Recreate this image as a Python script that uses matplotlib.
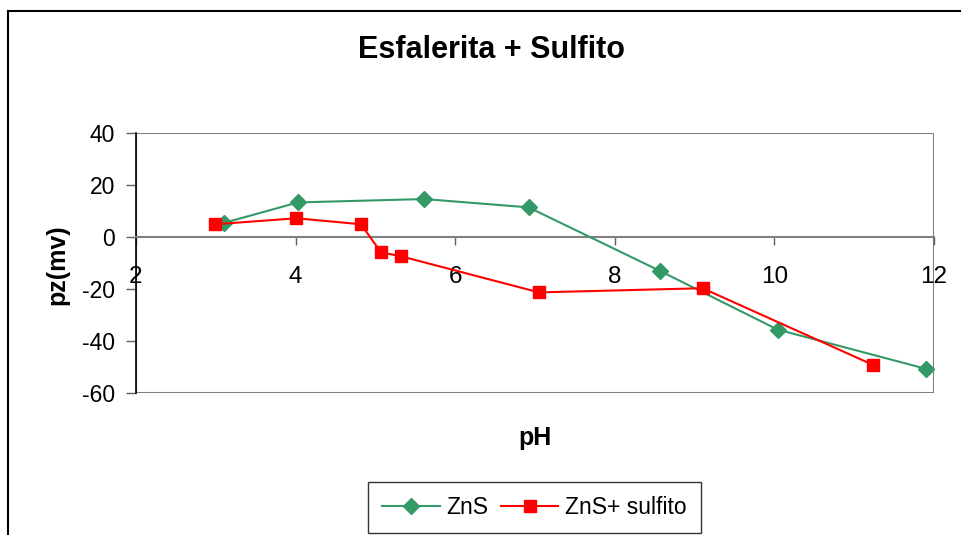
import matplotlib.pyplot as plt
from matplotlib.patches import Rectangle
from matplotlib.lines import Line2D

plt.rcParams['font.family'] = ['Liberation Sans', 'DejaVu Sans']
plt.rcParams['axes.unicode_minus'] = False

# Datos
ph_zns = [3.10, 4.03, 5.61, 6.92, 8.57, 10.04, 11.90]
pz_zns = [5.4, 13.3, 14.6, 11.4, -13.1, -35.6, -50.7]

ph_sulf = [2.99, 4.01, 4.82, 5.07, 5.32, 7.05, 9.10, 11.23]
pz_sulf = [4.9, 7.2, 4.9, -5.9, -7.4, -21.3, -19.7, -49.1]

fig = plt.figure(figsize=(9.61, 5.35), dpi=100)
ax = fig.add_axes([0.1415, 0.2654, 0.8304, 0.486])

ax.plot(ph_zns, pz_zns, color='#339966', marker='D', markersize=8,
        linewidth=1.5, label='ZnS', zorder=3)
ax.plot(ph_sulf, pz_sulf, color='#ff0000', marker='s', markersize=9,
        linewidth=1.5, label='ZnS+ sulfito', zorder=4)

ax.set_xlim(2, 12)
ax.set_ylim(-60, 40)
ax.set_xticks([2, 4, 6, 8, 10, 12])
ax.set_yticks([-60, -40, -20, 0, 20, 40])

# eje x cruzando en y=0, marco gris
ax.spines['bottom'].set_position(('data', 0))
ax.spines['bottom'].set_color('#808080')
ax.spines['bottom'].set_linewidth(1.5)
ax.spines['left'].set_color('black')
ax.spines['left'].set_linewidth(1.2)
ax.spines['top'].set_visible(False)
ax.spines['right'].set_visible(False)
ax.add_patch(Rectangle((0, 0), 1, 1, transform=ax.transAxes, fill=False,
                       edgecolor='#808080', linewidth=1.5, zorder=1))

ax.tick_params(axis='x', direction='out', length=6, width=1, color='#606060',
               labelsize=17.5, pad=15)
ax.tick_params(axis='y', direction='out', length=7, width=1, color='#606060',
               labelsize=16.5, pad=8)

fig.text(491 / 961, 1 - 50 / 535, 'Esfalerita + Sulfito', fontsize=22,
         fontweight='bold', ha='center', va='center')

fig.text(57 / 961, 1 - 265 / 535, 'pz(mv)', rotation=90, fontsize=18,
         fontweight='bold', ha='center', va='center')
fig.text(535 / 961, 1 - 438 / 535, 'pH', fontsize=18, fontweight='bold',
         ha='center', va='center')

leg = fig.legend(loc='center', bbox_to_anchor=(534.5 / 961, 1 - 507.5 / 535),
                 ncol=2, fontsize=16.5, frameon=True, fancybox=False,
                 edgecolor='black', handlelength=2.5, columnspacing=0.55,
                 handletextpad=0.3, borderpad=0.6)
leg.get_frame().set_linewidth(1.0)

# borde del área del gráfico
fig.add_artist(Line2D([8 / 961, 1], [1 - 11 / 535, 1 - 11 / 535],
                      transform=fig.transFigure, color='black', linewidth=1.5))
fig.add_artist(Line2D([8 / 961, 8 / 961], [0, 1 - 11 / 535],
                      transform=fig.transFigure, color='black', linewidth=1.5))

fig.savefig('out.png', dpi=100)
